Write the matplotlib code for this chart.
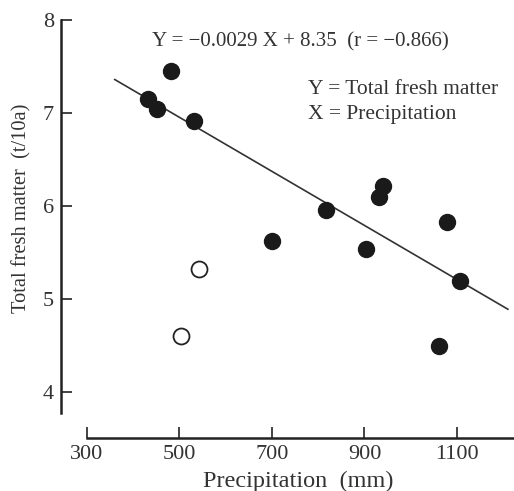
import matplotlib
matplotlib.use("Agg")
import matplotlib.pyplot as plt

# Data
filled_x = [432, 451, 482, 531, 700, 817, 903, 931, 940, 1061, 1078, 1106]
filled_y = [7.15, 7.04, 7.45, 6.91, 5.62, 5.96, 5.54, 6.10, 6.22, 4.49, 5.83, 5.19]
open_x = [503, 542]
open_y = [4.60, 5.32]
line_x = [360, 1210]
line_y = [7.36, 4.89]
x_ticks = [300, 500, 700, 900, 1100]
y_ticks = [4, 5, 6, 7, 8]

plt.rcParams['font.family'] = ['Liberation Serif', 'DejaVu Serif']

fig = plt.figure(figsize=(5.14, 4.91), dpi=100)
ax = fig.add_axes([0, 0, 1, 1])
# map: x pixel = 87 + (x-300)*0.4625 ; y pixel (from top) = 20 + (8-y)*93
W, H = 514, 491
x0 = 300 - 87 / 0.4625
x1 = 300 + (W - 87) / 0.4625
y1 = 8 + 20 / 93
y0 = 8 - (H - 20) / 93
ax.set_xlim(x0, x1)
ax.set_ylim(y0, y1)

def px(x):
    return 300 + (x - 87) / 0.4625

def py(y):
    return 8 - (y - 20) / 93

ax.plot(line_x, line_y, color='#333333', lw=1.2, zorder=2)
ax.plot(filled_x, filled_y, 'o', ms=11.5, mfc='#1a1a1a', mec='#1a1a1a', zorder=3)
ax.plot(open_x, open_y, 'o', ms=11.5, mfc='white', mec='#222222', mew=1.3, zorder=3)

for s in ['top', 'right']:
    ax.spines[s].set_visible(False)
ax.spines['left'].set_position(('data', px(61)))
ax.spines['bottom'].set_position(('data', py(438)))
ax.spines['left'].set_bounds(3.77, 8)
ax.spines['bottom'].set_bounds(300, x1)
for s in ['left', 'bottom']:
    ax.spines[s].set_linewidth(1.8)
    ax.spines[s].set_color('#222222')

ax.set_xticks(x_ticks)
ax.set_yticks(y_ticks)
ax.tick_params(axis='both', direction='in', length=8, width=1.2, colors='#222222',
               labelsize=16, labelcolor='#333333')
ax.tick_params(axis='y', pad=5)
ax.tick_params(axis='x', pad=5)

ax.text(px(152), py(42), 'Y = −0.0029 X + 8.35  (r = −0.866)', fontsize=15,
        color='#333333', ha='left', va='center')
ax.text(px(308), py(89), 'Y = Total fresh matter', fontsize=15.5,
        color='#333333', ha='left', va='center')
ax.text(px(308), py(115), 'X = Precipitation', fontsize=15.5,
        color='#333333', ha='left', va='center')

ax.text(px(298), py(481), 'Precipitation  (mm)', fontsize=17.5,
        color='#333333', ha='center', va='center')
ax.text(px(22), py(208), 'Total fresh matter  (t/10a)', fontsize=14.7,
        color='#333333', ha='center', va='center', rotation=90)

fig.savefig('out.png', dpi=100)
